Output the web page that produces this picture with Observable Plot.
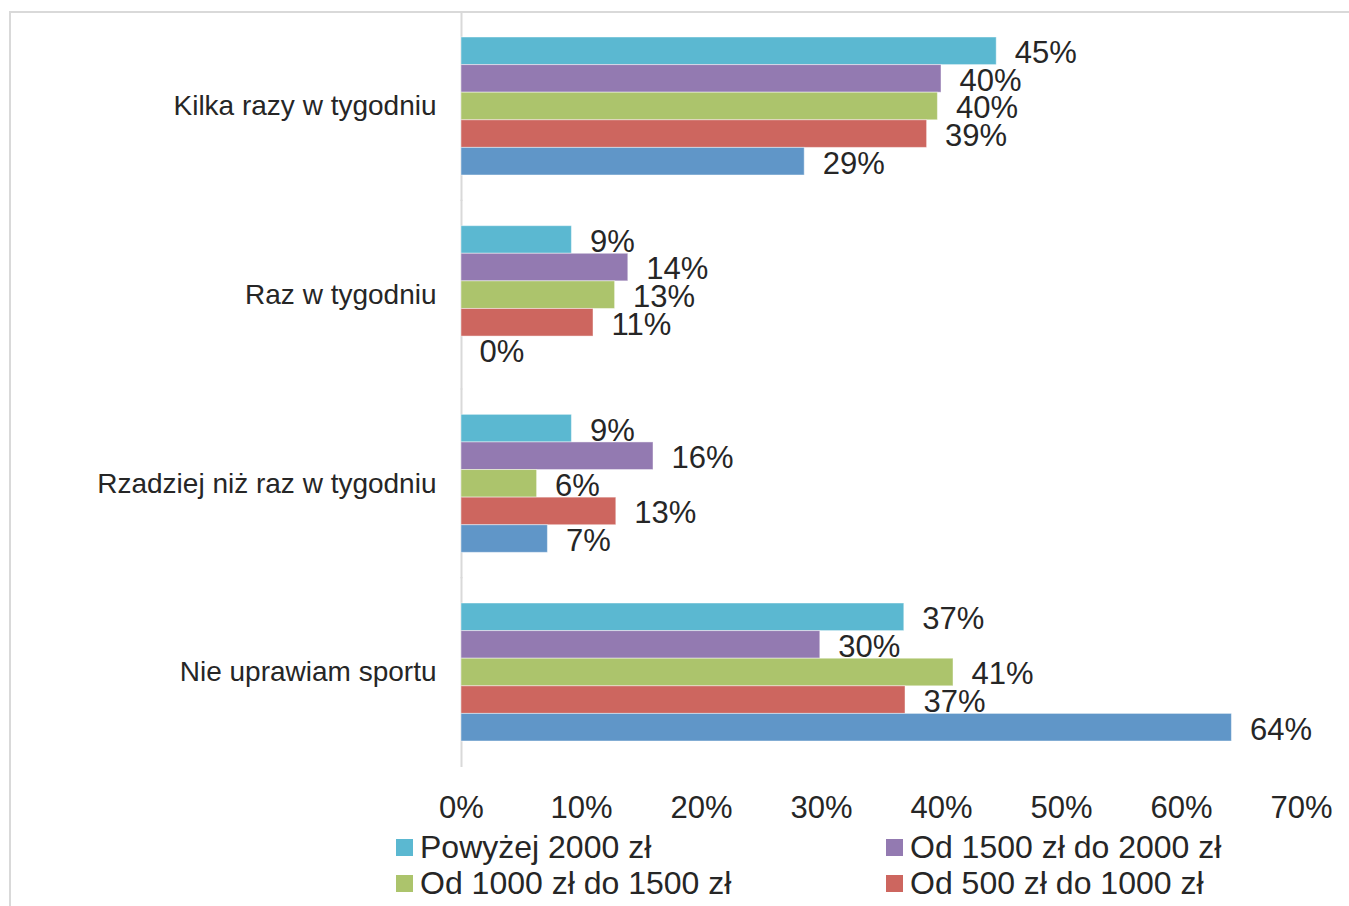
<!DOCTYPE html>
<html>
<head>
<meta charset="utf-8">
<script src="https://cdn.jsdelivr.net/npm/d3@7"></script>
<script src="https://cdn.jsdelivr.net/npm/@observablehq/plot@0.6"></script>
<style>
  body { margin: 0; background: #fff; font-family: "Liberation Sans", Arial, sans-serif; }
  #wrap { position: relative; width: 1349px; height: 906px; overflow: hidden; }
  #border { position: absolute; left: 9px; top: 11px; width: 1400px; height: 1000px; border: 2px solid #d9d9d9; box-sizing: border-box; }
  #chart { position: absolute; left: 0; top: 0; }
  #legend { position: absolute; left: 396px; top: 829px; display: grid; grid-template-columns: 490px auto; grid-auto-rows: 36px; font-size: 32px; color: #262626; }
  .item { display: flex; align-items: center; white-space: nowrap; }
  .sw { width: 17px; height: 17px; margin-right: 7px; flex: none; }
</style>
</head>
<body>
<div id="wrap">
  <div id="border"></div>
  <div id="chart"></div>
  <div id="legend"></div>
</div>
<script>
const categories = ["Kilka razy w tygodniu", "Raz w tygodniu", "Rzadziej niż raz w tygodniu", "Nie uprawiam sportu"];
const series = ["Powyżej 2000 zł", "Od 1500 zł do 2000 zł", "Od 1000 zł do 1500 zł", "Od 500 zł do 1000 zł", "Do 500 zł"];
const legendShown = ["Powyżej 2000 zł", "Od 1500 zł do 2000 zł", "Od 1000 zł do 1500 zł", "Od 500 zł do 1000 zł"];
const colors = ["#5BB8D1", "#937AB1", "#ACC46C", "#CD665F", "#6096C8"];
const powyzej2000 = [44.6, 9.2, 9.2, 36.9];
const od1500do2000 = [40.0, 13.9, 16.0, 29.9];
const od1000do1500 = [39.7, 12.8, 6.3, 41.0];
const od500do1000 = [38.8, 11.0, 12.9, 37.0];
const do500 = [28.6, 0, 7.2, 64.2];
const xTicks = [0, 10, 20, 30, 40, 50, 60, 70];

const seriesValues = [powyzej2000, od1500do2000, od1000do1500, od500do1000, do500];
const rows = [];
series.forEach((s, i) => categories.forEach((c, j) => rows.push({category: c, series: s, value: seriesValues[i][j]})));

const chart = Plot.plot({
  width: 1349,
  height: 830,
  marginLeft: 461,
  marginRight: 48,
  marginTop: 12,
  marginBottom: 64,
  style: {fontFamily: "'Liberation Sans', Arial, sans-serif", color: "#404040", background: "transparent"},
  x: {domain: [0, 70], label: null},
  y: {domain: series, padding: 0, round: false, axis: null},
  fy: {domain: categories, paddingInner: 0.2686, paddingOuter: 0.1325, round: false, label: null},
  color: {domain: series, range: colors},
  marks: [
    Plot.ruleX([0], {stroke: "#d9d9d9", strokeWidth: 2, insetTop: -26, insetBottom: -26}),
    Plot.barX(rows, {x: "value", y: "series", fy: "category", fill: "series", stroke: "white", strokeOpacity: 0.45, strokeWidth: 1}),
    Plot.text(rows, {x: "value", y: "series", fy: "category", text: d => Math.round(d.value) + "%", dx: 18, dy: 2, textAnchor: "start", fontSize: 31, fill: "#262626"}),
    Plot.axisFy({anchor: "left", tickSize: 0, tickPadding: 25, fontSize: 28, label: null, fill: "#262626"}),
    Plot.axisX({anchor: "bottom", ticks: xTicks, tickFormat: d => d + "%", tickSize: 0, tickPadding: 54, fontSize: 31, label: null, fill: "#262626"})
  ]
});
document.getElementById("chart").appendChild(chart);

const legend = document.getElementById("legend");
legendShown.forEach(s => {
  const item = document.createElement("div");
  item.className = "item";
  const sw = document.createElement("span");
  sw.className = "sw";
  sw.style.background = colors[series.indexOf(s)];
  const t = document.createElement("span");
  t.textContent = s;
  item.appendChild(sw);
  item.appendChild(t);
  legend.appendChild(item);
});
</script>
</body>
</html>
